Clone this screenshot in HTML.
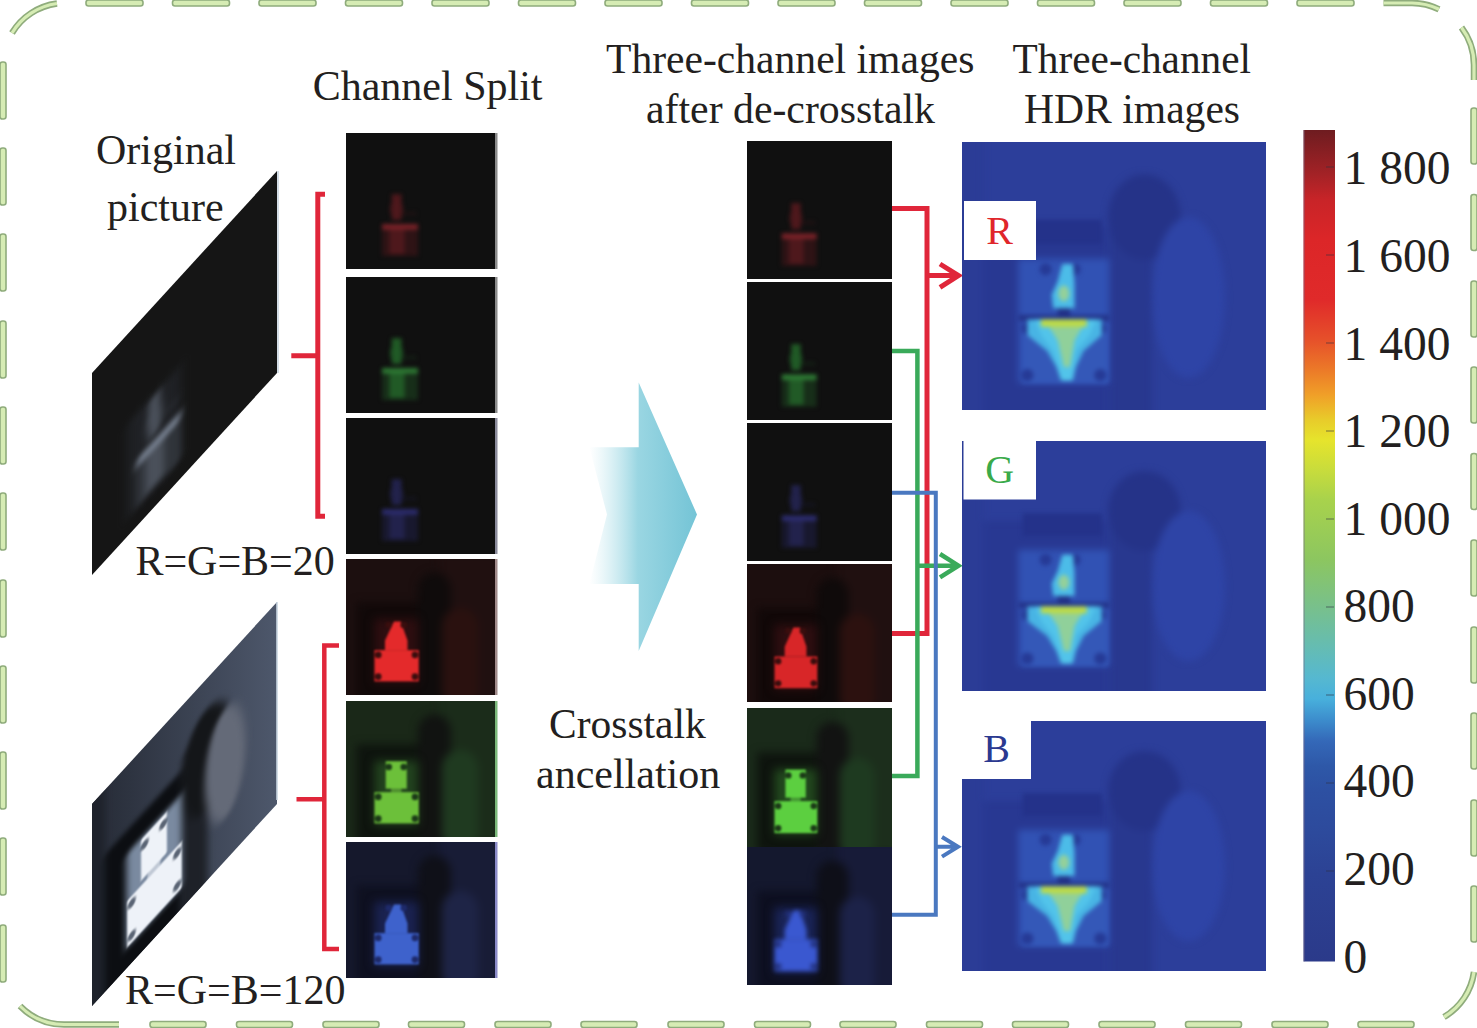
<!DOCTYPE html>
<html><head><meta charset="utf-8"><style>
html,body{margin:0;padding:0;background:#fff;}
svg{display:block;}
</style></head><body>
<svg width="1477" height="1028" viewBox="0 0 1477 1028">
<defs>
<filter id="b1" color-interpolation-filters="sRGB" x="-20%" y="-20%" width="140%" height="140%"><feGaussianBlur stdDeviation="1"/></filter>
<filter id="b2" color-interpolation-filters="sRGB" x="-20%" y="-20%" width="140%" height="140%"><feGaussianBlur stdDeviation="2"/></filter>
<filter id="b3" color-interpolation-filters="sRGB" x="-20%" y="-20%" width="140%" height="140%"><feGaussianBlur stdDeviation="3.5"/></filter>
<filter id="b5" color-interpolation-filters="sRGB" x="-50%" y="-50%" width="200%" height="200%"><feGaussianBlur stdDeviation="5"/></filter>
<filter id="b4" color-interpolation-filters="sRGB" x="-50%" y="-50%" width="200%" height="200%"><feGaussianBlur stdDeviation="4"/></filter>
<linearGradient id="arrowg" x1="0" x2="1" y1="0" y2="0"><stop offset="0" stop-color="#bfe6ee" stop-opacity="0"/><stop offset="0.45" stop-color="#9ad6e2"/><stop offset="1" stop-color="#74c4d6"/></linearGradient>
<linearGradient id="cbar" x1="0" x2="0" y1="1" y2="0"><stop offset="0.0" stop-color="#2b3a8a"/><stop offset="0.104" stop-color="#2c4294"/><stop offset="0.155" stop-color="#2d4a9c"/><stop offset="0.205" stop-color="#2d50a2"/><stop offset="0.235" stop-color="#2e58a8"/><stop offset="0.265" stop-color="#3468b8"/><stop offset="0.29" stop-color="#3c8ccc"/><stop offset="0.316" stop-color="#48b0dc"/><stop offset="0.341" stop-color="#56b8d0"/><stop offset="0.376" stop-color="#64bcb4"/><stop offset="0.426" stop-color="#78c08c"/><stop offset="0.483" stop-color="#8cc660"/><stop offset="0.555" stop-color="#a8d24c"/><stop offset="0.591" stop-color="#c8dc3c"/><stop offset="0.627" stop-color="#e6e42c"/><stop offset="0.651" stop-color="#e8cc2a"/><stop offset="0.681" stop-color="#f0a028"/><stop offset="0.711" stop-color="#ec7a28"/><stop offset="0.748" stop-color="#e6502a"/><stop offset="0.796" stop-color="#e02a2a"/><stop offset="0.868" stop-color="#dc2628"/><stop offset="0.916" stop-color="#c82428"/><stop offset="0.946" stop-color="#a42226"/><stop offset="1.0" stop-color="#6e1c20"/></linearGradient>
<linearGradient id="p2bg" x1="0" x2="1" y1="0" y2="0"><stop offset="0" stop-color="#252a35"/><stop offset="1" stop-color="#4e586c"/></linearGradient>
</defs>
<rect x="0" y="0" width="1477" height="1028" fill="#ffffff"/>
<rect x="86.0" y="0.0" width="57.0" height="6" rx="2.5" fill="#d6ecb4" stroke="#8fac7c" stroke-width="1.6"/>
<rect x="172.5" y="0.0" width="57.0" height="6" rx="2.5" fill="#d6ecb4" stroke="#8fac7c" stroke-width="1.6"/>
<rect x="259.0" y="0.0" width="57.0" height="6" rx="2.5" fill="#d6ecb4" stroke="#8fac7c" stroke-width="1.6"/>
<rect x="345.5" y="0.0" width="57.0" height="6" rx="2.5" fill="#d6ecb4" stroke="#8fac7c" stroke-width="1.6"/>
<rect x="432.0" y="0.0" width="57.0" height="6" rx="2.5" fill="#d6ecb4" stroke="#8fac7c" stroke-width="1.6"/>
<rect x="518.5" y="0.0" width="57.0" height="6" rx="2.5" fill="#d6ecb4" stroke="#8fac7c" stroke-width="1.6"/>
<rect x="605.0" y="0.0" width="57.0" height="6" rx="2.5" fill="#d6ecb4" stroke="#8fac7c" stroke-width="1.6"/>
<rect x="691.5" y="0.0" width="57.0" height="6" rx="2.5" fill="#d6ecb4" stroke="#8fac7c" stroke-width="1.6"/>
<rect x="778.0" y="0.0" width="57.0" height="6" rx="2.5" fill="#d6ecb4" stroke="#8fac7c" stroke-width="1.6"/>
<rect x="864.5" y="0.0" width="57.0" height="6" rx="2.5" fill="#d6ecb4" stroke="#8fac7c" stroke-width="1.6"/>
<rect x="951.0" y="0.0" width="57.0" height="6" rx="2.5" fill="#d6ecb4" stroke="#8fac7c" stroke-width="1.6"/>
<rect x="1037.5" y="0.0" width="57.0" height="6" rx="2.5" fill="#d6ecb4" stroke="#8fac7c" stroke-width="1.6"/>
<rect x="1124.0" y="0.0" width="57.0" height="6" rx="2.5" fill="#d6ecb4" stroke="#8fac7c" stroke-width="1.6"/>
<rect x="1210.5" y="0.0" width="57.0" height="6" rx="2.5" fill="#d6ecb4" stroke="#8fac7c" stroke-width="1.6"/>
<rect x="1297.0" y="0.0" width="57.0" height="6" rx="2.5" fill="#d6ecb4" stroke="#8fac7c" stroke-width="1.6"/>
<rect x="0.0" y="62.0" width="6" height="57.0" rx="2.5" fill="#d6ecb4" stroke="#8fac7c" stroke-width="1.6"/>
<rect x="0.0" y="148.0" width="6" height="57.0" rx="2.5" fill="#d6ecb4" stroke="#8fac7c" stroke-width="1.6"/>
<rect x="0.0" y="234.0" width="6" height="57.0" rx="2.5" fill="#d6ecb4" stroke="#8fac7c" stroke-width="1.6"/>
<rect x="0.0" y="321.0" width="6" height="57.0" rx="2.5" fill="#d6ecb4" stroke="#8fac7c" stroke-width="1.6"/>
<rect x="0.0" y="407.0" width="6" height="57.0" rx="2.5" fill="#d6ecb4" stroke="#8fac7c" stroke-width="1.6"/>
<rect x="0.0" y="493.0" width="6" height="57.0" rx="2.5" fill="#d6ecb4" stroke="#8fac7c" stroke-width="1.6"/>
<rect x="0.0" y="580.0" width="6" height="57.0" rx="2.5" fill="#d6ecb4" stroke="#8fac7c" stroke-width="1.6"/>
<rect x="0.0" y="666.0" width="6" height="57.0" rx="2.5" fill="#d6ecb4" stroke="#8fac7c" stroke-width="1.6"/>
<rect x="0.0" y="752.0" width="6" height="57.0" rx="2.5" fill="#d6ecb4" stroke="#8fac7c" stroke-width="1.6"/>
<rect x="0.0" y="838.0" width="6" height="57.0" rx="2.5" fill="#d6ecb4" stroke="#8fac7c" stroke-width="1.6"/>
<rect x="0.0" y="925.0" width="6" height="57.0" rx="2.5" fill="#d6ecb4" stroke="#8fac7c" stroke-width="1.6"/>
<rect x="1471.0" y="108.0" width="6" height="56.0" rx="2.5" fill="#d6ecb4" stroke="#8fac7c" stroke-width="1.6"/>
<rect x="1471.0" y="194.5" width="6" height="56.0" rx="2.5" fill="#d6ecb4" stroke="#8fac7c" stroke-width="1.6"/>
<rect x="1471.0" y="281.0" width="6" height="56.0" rx="2.5" fill="#d6ecb4" stroke="#8fac7c" stroke-width="1.6"/>
<rect x="1471.0" y="367.0" width="6" height="56.0" rx="2.5" fill="#d6ecb4" stroke="#8fac7c" stroke-width="1.6"/>
<rect x="1471.0" y="453.5" width="6" height="56.0" rx="2.5" fill="#d6ecb4" stroke="#8fac7c" stroke-width="1.6"/>
<rect x="1471.0" y="540.0" width="6" height="56.0" rx="2.5" fill="#d6ecb4" stroke="#8fac7c" stroke-width="1.6"/>
<rect x="1471.0" y="627.0" width="6" height="56.0" rx="2.5" fill="#d6ecb4" stroke="#8fac7c" stroke-width="1.6"/>
<rect x="1471.0" y="713.0" width="6" height="56.0" rx="2.5" fill="#d6ecb4" stroke="#8fac7c" stroke-width="1.6"/>
<rect x="1471.0" y="800.0" width="6" height="56.0" rx="2.5" fill="#d6ecb4" stroke="#8fac7c" stroke-width="1.6"/>
<rect x="1471.0" y="886.0" width="6" height="56.0" rx="2.5" fill="#d6ecb4" stroke="#8fac7c" stroke-width="1.6"/>
<rect x="150.0" y="1021.5" width="56.0" height="6" rx="2.5" fill="#d6ecb4" stroke="#8fac7c" stroke-width="1.6"/>
<rect x="236.5" y="1021.5" width="56.0" height="6" rx="2.5" fill="#d6ecb4" stroke="#8fac7c" stroke-width="1.6"/>
<rect x="323.0" y="1021.5" width="56.0" height="6" rx="2.5" fill="#d6ecb4" stroke="#8fac7c" stroke-width="1.6"/>
<rect x="408.5" y="1021.5" width="56.0" height="6" rx="2.5" fill="#d6ecb4" stroke="#8fac7c" stroke-width="1.6"/>
<rect x="495.0" y="1021.5" width="56.0" height="6" rx="2.5" fill="#d6ecb4" stroke="#8fac7c" stroke-width="1.6"/>
<rect x="581.0" y="1021.5" width="56.0" height="6" rx="2.5" fill="#d6ecb4" stroke="#8fac7c" stroke-width="1.6"/>
<rect x="668.0" y="1021.5" width="56.0" height="6" rx="2.5" fill="#d6ecb4" stroke="#8fac7c" stroke-width="1.6"/>
<rect x="754.5" y="1021.5" width="56.0" height="6" rx="2.5" fill="#d6ecb4" stroke="#8fac7c" stroke-width="1.6"/>
<rect x="840.0" y="1021.5" width="56.0" height="6" rx="2.5" fill="#d6ecb4" stroke="#8fac7c" stroke-width="1.6"/>
<rect x="926.5" y="1021.5" width="56.0" height="6" rx="2.5" fill="#d6ecb4" stroke="#8fac7c" stroke-width="1.6"/>
<rect x="1012.5" y="1021.5" width="56.0" height="6" rx="2.5" fill="#d6ecb4" stroke="#8fac7c" stroke-width="1.6"/>
<rect x="1099.0" y="1021.5" width="56.0" height="6" rx="2.5" fill="#d6ecb4" stroke="#8fac7c" stroke-width="1.6"/>
<rect x="1185.5" y="1021.5" width="56.0" height="6" rx="2.5" fill="#d6ecb4" stroke="#8fac7c" stroke-width="1.6"/>
<rect x="1272.0" y="1021.5" width="56.0" height="6" rx="2.5" fill="#d6ecb4" stroke="#8fac7c" stroke-width="1.6"/>
<rect x="1358.0" y="1021.5" width="56.0" height="6" rx="2.5" fill="#d6ecb4" stroke="#8fac7c" stroke-width="1.6"/>
<path d="M 12 33 A 62 62 0 0 1 57 3.5" fill="none" stroke="#8fac7c" stroke-width="6.5" stroke-linecap="butt"/>
<path d="M 12 33 A 62 62 0 0 1 57 3.5" fill="none" stroke="#d6ecb4" stroke-width="3.2" stroke-linecap="butt"/>
<path d="M 1383.5 3 L 1412 3 A 62 62 0 0 1 1439 9.3" fill="none" stroke="#8fac7c" stroke-width="6.5" stroke-linecap="butt"/>
<path d="M 1383.5 3 L 1412 3 A 62 62 0 0 1 1439 9.3" fill="none" stroke="#d6ecb4" stroke-width="3.2" stroke-linecap="butt"/>
<path d="M 1461.5 27.5 A 62 62 0 0 1 1474 65 L 1474 80" fill="none" stroke="#8fac7c" stroke-width="6.5" stroke-linecap="butt"/>
<path d="M 1461.5 27.5 A 62 62 0 0 1 1474 65 L 1474 80" fill="none" stroke="#d6ecb4" stroke-width="3.2" stroke-linecap="butt"/>
<path d="M 1474 972 A 62 62 0 0 1 1444 1017" fill="none" stroke="#8fac7c" stroke-width="6.5" stroke-linecap="butt"/>
<path d="M 1474 972 A 62 62 0 0 1 1444 1017" fill="none" stroke="#d6ecb4" stroke-width="3.2" stroke-linecap="butt"/>
<path d="M 20 1006 A 62 62 0 0 0 65 1024.5 L 119 1024.5" fill="none" stroke="#8fac7c" stroke-width="6.5" stroke-linecap="butt"/>
<path d="M 20 1006 A 62 62 0 0 0 65 1024.5 L 119 1024.5" fill="none" stroke="#d6ecb4" stroke-width="3.2" stroke-linecap="butt"/>
<clipPath id="cp1"><rect x="0" y="0" width="185" height="202"/></clipPath>
<g transform="matrix(1,-1.0919,0,1,92,373.00)"><g clip-path="url(#cp1)">
<rect x="-2" y="-2" width="189" height="206" fill="#151515"/>
<g filter="url(#b3)">
</g>
<g filter="url(#b5)">
<rect x="35.15" y="88.88" width="53.65" height="94.94" fill="#1f2125"/>
</g>
<g filter="url(#b3)">
<rect x="44.40" y="135.34" width="44.40" height="47.47" fill="#30343a"/>
<rect x="56.42" y="90.90" width="12.03" height="38.38" fill="#4a505a"/>
<rect x="68.45" y="117.16" width="18.50" height="5.05" fill="#30343a" opacity="0.5"/>
<ellipse cx="62.35" cy="113.12" rx="8.32" ry="14.14" fill="#4a505a" opacity="0.7"/>
<rect x="53.65" y="137.36" width="18.50" height="42.42" fill="#4a505a"/>
<rect x="44.40" y="135.34" width="44.40" height="8.08" fill="#7a8494"/>
</g></g></g>
<clipPath id="cp2"><rect x="0" y="0" width="185" height="202"/></clipPath>
<g transform="matrix(1,-1.0919,0,1,92,804.00)"><g clip-path="url(#cp2)">
<rect x="-2" y="-2" width="189" height="206" fill="url(#p2bg)"/>
<g filter="url(#b3)">
<rect x="-9.25" y="-10.10" width="22.20" height="222.20" fill="#1e222b"/>
<rect x="12.95" y="64.64" width="75.85" height="147.46" fill="#0c0e12"/>
<rect x="90.09" y="50.50" width="25.53" height="161.60" fill="#1e2128"/>
<ellipse cx="114.70" cy="80.80" rx="25.90" ry="50.50" fill="#141619"/>
<ellipse cx="133.20" cy="105.04" rx="20.35" ry="54.54" fill="#646a78"/>
<rect x="34.23" y="87.87" width="55.50" height="93.93" fill="#7a8aa0"/>
</g>
<g filter="url(#b5)">
</g>
<g filter="url(#b1)">
<rect x="49.03" y="89.49" width="25.90" height="40.80" fill="#eef2f8"/>
<rect x="55.50" y="129.28" width="12.95" height="6.06" fill="#eef2f8" opacity="0.6"/>
<rect x="35.15" y="135.34" width="54.57" height="46.46" fill="#eef2f8"/>
<circle cx="39.77" cy="142.41" r="4.07" fill="#5a6474"/>
<circle cx="85.10" cy="142.41" r="4.07" fill="#5a6474"/>
<circle cx="39.77" cy="174.73" r="4.07" fill="#5a6474"/>
<circle cx="85.10" cy="174.73" r="4.07" fill="#5a6474"/>
<circle cx="52.72" cy="97.97" r="4.07" fill="#5a6474"/>
<circle cx="71.23" cy="97.97" r="4.07" fill="#5a6474"/>
</g></g></g>
<rect x="277" y="171" width="2" height="202" fill="#c8d4e0" opacity="0.8"/>
<rect x="276" y="602" width="2" height="198" fill="#c8d4e0" opacity="0.8"/>
<path d="M 325 194.3 L 317.8 194.3 L 317.8 516.3 L 325 516.3 M 291.3 355.8 L 317.8 355.8" fill="none" stroke="#e0263a" stroke-width="5"/>
<path d="M 339 645.5 L 324.3 645.5 L 324.3 949 L 339 949 M 296.5 799.3 L 324.3 799.3" fill="none" stroke="#e0263a" stroke-width="4.5"/>
<clipPath id="cs0"><rect x="0" y="0" width="150" height="136"/></clipPath>
<g transform="translate(346,133)"><g clip-path="url(#cs0)">
<rect x="-2" y="-2" width="154" height="140" fill="#101010"/>
<g filter="url(#b3)">
</g>
<g filter="url(#b5)">
</g>
<g filter="url(#b2)">
<rect x="36.00" y="91.12" width="36.00" height="31.96" fill="#2e1315"/>
<rect x="45.75" y="61.20" width="9.75" height="25.84" fill="#4e181c"/>
<rect x="55.50" y="78.88" width="15.00" height="3.40" fill="#2e1315" opacity="0.5"/>
<ellipse cx="50.55" cy="76.16" rx="6.75" ry="9.52" fill="#4e181c" opacity="0.7"/>
<rect x="43.50" y="92.48" width="15.00" height="28.56" fill="#4e181c"/>
<rect x="36.00" y="91.12" width="36.00" height="5.44" fill="#7a2228"/>
</g></g></g>
<rect x="495" y="133" width="2.5" height="136" fill="#8a8a8a"/>
<clipPath id="cs1"><rect x="0" y="0" width="150" height="136"/></clipPath>
<g transform="translate(346,277)"><g clip-path="url(#cs1)">
<rect x="-2" y="-2" width="154" height="140" fill="#101010"/>
<g filter="url(#b3)">
</g>
<g filter="url(#b5)">
</g>
<g filter="url(#b2)">
<rect x="36.00" y="91.12" width="36.00" height="31.96" fill="#172e19"/>
<rect x="45.75" y="61.20" width="9.75" height="25.84" fill="#215a26"/>
<rect x="55.50" y="78.88" width="15.00" height="3.40" fill="#172e19" opacity="0.5"/>
<ellipse cx="50.55" cy="76.16" rx="6.75" ry="9.52" fill="#215a26" opacity="0.7"/>
<rect x="43.50" y="92.48" width="15.00" height="28.56" fill="#215a26"/>
<rect x="36.00" y="91.12" width="36.00" height="5.44" fill="#2e7a34"/>
</g></g></g>
<rect x="495" y="277" width="2.5" height="136" fill="#8a8a8a"/>
<clipPath id="cs2"><rect x="0" y="0" width="150" height="136"/></clipPath>
<g transform="translate(346,418)"><g clip-path="url(#cs2)">
<rect x="-2" y="-2" width="154" height="140" fill="#101010"/>
<g filter="url(#b3)">
</g>
<g filter="url(#b5)">
</g>
<g filter="url(#b2)">
<rect x="36.00" y="91.12" width="36.00" height="31.96" fill="#18182e"/>
<rect x="45.75" y="61.20" width="9.75" height="25.84" fill="#22224c"/>
<rect x="55.50" y="78.88" width="15.00" height="3.40" fill="#18182e" opacity="0.5"/>
<ellipse cx="50.55" cy="76.16" rx="6.75" ry="9.52" fill="#22224c" opacity="0.7"/>
<rect x="43.50" y="92.48" width="15.00" height="28.56" fill="#22224c"/>
<rect x="36.00" y="91.12" width="36.00" height="5.44" fill="#2c2c6e"/>
</g></g></g>
<rect x="495" y="418" width="2.5" height="136" fill="#8a8a9a"/>
<clipPath id="cs3"><rect x="0" y="0" width="150" height="136"/></clipPath>
<g transform="translate(346,559)"><g clip-path="url(#cs3)">
<rect x="-2" y="-2" width="154" height="140" fill="#1c0f0f"/>
<g filter="url(#b4)">
<rect x="93.00" y="-6.80" width="64.50" height="149.60" fill="#201010"/>
<rect x="10.50" y="43.52" width="61.50" height="99.28" fill="#110909"/>
<rect x="72.00" y="13.60" width="33.00" height="136.00" rx="16.50" fill="#0f0b0b"/>
<rect x="96.00" y="48.96" width="36.00" height="100.64" rx="18.00" fill="#2a110f"/>
</g>
<g filter="url(#b5)">
<rect x="28.50" y="59.84" width="43.50" height="63.92" fill="#2e0e10"/>
</g>
<g filter="url(#b1)">
<path d="M 48.00 62.56 L 54.75 62.56 L 61.50 81.60 L 61.50 91.12 L 39.00 91.12 L 39.00 81.60 Z" fill="#e42a2b"/>
<rect x="28.50" y="91.12" width="44.25" height="31.28" fill="#e42a2b"/>
<circle cx="32.25" cy="95.88" r="3.30" fill="#3a0e0e"/>
<circle cx="69.00" cy="95.88" r="3.30" fill="#3a0e0e"/>
<circle cx="32.25" cy="117.64" r="3.30" fill="#3a0e0e"/>
<circle cx="69.00" cy="117.64" r="3.30" fill="#3a0e0e"/>
<circle cx="42.75" cy="65.96" r="3.30" fill="#3a0e0e"/>
<circle cx="57.75" cy="65.96" r="3.30" fill="#3a0e0e"/>
</g></g></g>
<rect x="495" y="559" width="2.5" height="136" fill="#a08a8a"/>
<clipPath id="cs4"><rect x="0" y="0" width="150" height="136"/></clipPath>
<g transform="translate(346,701)"><g clip-path="url(#cs4)">
<rect x="-2" y="-2" width="154" height="140" fill="#1a2818"/>
<g filter="url(#b4)">
<rect x="93.00" y="-6.80" width="64.50" height="149.60" fill="#1b2c1a"/>
<rect x="10.50" y="43.52" width="61.50" height="99.28" fill="#0e140e"/>
<rect x="72.00" y="13.60" width="33.00" height="136.00" rx="16.50" fill="#111311"/>
<rect x="96.00" y="48.96" width="36.00" height="100.64" rx="18.00" fill="#1f3a20"/>
</g>
<g filter="url(#b5)">
<rect x="28.50" y="59.84" width="43.50" height="63.92" fill="#22421e"/>
</g>
<g filter="url(#b1)">
<rect x="39.75" y="60.25" width="21.00" height="27.47" fill="#6cc03a"/>
<rect x="45.00" y="87.04" width="10.50" height="4.08" fill="#6cc03a" opacity="0.6"/>
<rect x="28.50" y="91.12" width="44.25" height="31.28" fill="#6cc03a"/>
<circle cx="32.25" cy="95.88" r="3.30" fill="#1c3a18"/>
<circle cx="69.00" cy="95.88" r="3.30" fill="#1c3a18"/>
<circle cx="32.25" cy="117.64" r="3.30" fill="#1c3a18"/>
<circle cx="69.00" cy="117.64" r="3.30" fill="#1c3a18"/>
<circle cx="42.75" cy="65.96" r="3.30" fill="#1c3a18"/>
<circle cx="57.75" cy="65.96" r="3.30" fill="#1c3a18"/>
</g></g></g>
<rect x="495" y="701" width="2.5" height="136" fill="#7ab87a"/>
<clipPath id="cs5"><rect x="0" y="0" width="150" height="136"/></clipPath>
<g transform="translate(346,842)"><g clip-path="url(#cs5)">
<rect x="-2" y="-2" width="154" height="140" fill="#15182c"/>
<g filter="url(#b4)">
<rect x="93.00" y="-6.80" width="64.50" height="149.60" fill="#181c36"/>
<rect x="10.50" y="43.52" width="61.50" height="99.28" fill="#0e1020"/>
<rect x="72.00" y="13.60" width="33.00" height="136.00" rx="16.50" fill="#0f1018"/>
<rect x="96.00" y="48.96" width="36.00" height="100.64" rx="18.00" fill="#1e2446"/>
</g>
<g filter="url(#b5)">
<rect x="28.50" y="59.84" width="43.50" height="63.92" fill="#1a2250"/>
</g>
<g filter="url(#b1)">
<path d="M 48.00 62.56 L 54.75 62.56 L 61.50 81.60 L 61.50 91.12 L 39.00 91.12 L 39.00 81.60 Z" fill="#3e62cc"/>
<rect x="28.50" y="91.12" width="44.25" height="31.28" fill="#3e62cc"/>
<circle cx="32.25" cy="95.88" r="3.30" fill="#1e2a6a"/>
<circle cx="69.00" cy="95.88" r="3.30" fill="#1e2a6a"/>
<circle cx="32.25" cy="117.64" r="3.30" fill="#1e2a6a"/>
<circle cx="69.00" cy="117.64" r="3.30" fill="#1e2a6a"/>
<circle cx="42.75" cy="65.96" r="3.30" fill="#1e2a6a"/>
<circle cx="57.75" cy="65.96" r="3.30" fill="#1e2a6a"/>
</g></g></g>
<rect x="495" y="842" width="2.5" height="136" fill="#8a8ac8"/>
<path d="M 589.4 447.3 L 638.7 447.3 L 638.7 382.4 L 697 514.5 L 638.7 651 L 638.7 584 L 589.4 584 L 607 514.5 Z" fill="url(#arrowg)"/>
<clipPath id="ms0"><rect x="0" y="0" width="145" height="138"/></clipPath>
<g transform="translate(747,141)"><g clip-path="url(#ms0)">
<rect x="-2" y="-2" width="149" height="142" fill="#101010"/>
<g filter="url(#b3)">
</g>
<g filter="url(#b5)">
</g>
<g filter="url(#b2)">
<rect x="34.80" y="92.46" width="34.80" height="32.43" fill="#2e1315"/>
<rect x="44.23" y="62.10" width="9.43" height="26.22" fill="#4e181c"/>
<rect x="53.65" y="80.04" width="14.50" height="3.45" fill="#2e1315" opacity="0.5"/>
<ellipse cx="48.87" cy="77.28" rx="6.52" ry="9.66" fill="#4e181c" opacity="0.7"/>
<rect x="42.05" y="93.84" width="14.50" height="28.98" fill="#4e181c"/>
<rect x="34.80" y="92.46" width="34.80" height="5.52" fill="#7a2228"/>
</g></g></g>
<clipPath id="ms1"><rect x="0" y="0" width="145" height="138"/></clipPath>
<g transform="translate(747,282)"><g clip-path="url(#ms1)">
<rect x="-2" y="-2" width="149" height="142" fill="#101010"/>
<g filter="url(#b3)">
</g>
<g filter="url(#b5)">
</g>
<g filter="url(#b2)">
<rect x="34.80" y="92.46" width="34.80" height="32.43" fill="#172e19"/>
<rect x="44.23" y="62.10" width="9.43" height="26.22" fill="#215a26"/>
<rect x="53.65" y="80.04" width="14.50" height="3.45" fill="#172e19" opacity="0.5"/>
<ellipse cx="48.87" cy="77.28" rx="6.52" ry="9.66" fill="#215a26" opacity="0.7"/>
<rect x="42.05" y="93.84" width="14.50" height="28.98" fill="#215a26"/>
<rect x="34.80" y="92.46" width="34.80" height="5.52" fill="#2e7a34"/>
</g></g></g>
<clipPath id="ms2"><rect x="0" y="0" width="145" height="138"/></clipPath>
<g transform="translate(747,423)"><g clip-path="url(#ms2)">
<rect x="-2" y="-2" width="149" height="142" fill="#101010"/>
<g filter="url(#b3)">
</g>
<g filter="url(#b5)">
</g>
<g filter="url(#b2)">
<rect x="34.80" y="92.46" width="34.80" height="32.43" fill="#18182e"/>
<rect x="44.23" y="62.10" width="9.43" height="26.22" fill="#22224c"/>
<rect x="53.65" y="80.04" width="14.50" height="3.45" fill="#18182e" opacity="0.5"/>
<ellipse cx="48.87" cy="77.28" rx="6.52" ry="9.66" fill="#22224c" opacity="0.7"/>
<rect x="42.05" y="93.84" width="14.50" height="28.98" fill="#22224c"/>
<rect x="34.80" y="92.46" width="34.80" height="5.52" fill="#2c2c6e"/>
</g></g></g>
<clipPath id="ms3"><rect x="0" y="0" width="145" height="138"/></clipPath>
<g transform="translate(747,564)"><g clip-path="url(#ms3)">
<rect x="-2" y="-2" width="149" height="142" fill="#1c0e0e"/>
<g filter="url(#b4)">
<rect x="89.90" y="-6.90" width="62.35" height="151.80" fill="#201010"/>
<rect x="10.15" y="44.16" width="59.45" height="100.74" fill="#110808"/>
<rect x="69.60" y="13.80" width="31.90" height="138.00" rx="15.95" fill="#0f0a0a"/>
<rect x="92.80" y="49.68" width="34.80" height="102.12" rx="17.40" fill="#2c110f"/>
</g>
<g filter="url(#b5)">
<rect x="27.55" y="60.72" width="42.05" height="64.86" fill="#2e0e10"/>
</g>
<g filter="url(#b1)">
<path d="M 46.40 63.48 L 52.92 63.48 L 59.45 82.80 L 59.45 92.46 L 37.70 92.46 L 37.70 82.80 Z" fill="#d82628"/>
<rect x="27.55" y="92.46" width="42.77" height="31.74" fill="#d82628"/>
<circle cx="31.18" cy="97.29" r="3.19" fill="#3a0e0e"/>
<circle cx="66.70" cy="97.29" r="3.19" fill="#3a0e0e"/>
<circle cx="31.18" cy="119.37" r="3.19" fill="#3a0e0e"/>
<circle cx="66.70" cy="119.37" r="3.19" fill="#3a0e0e"/>
<circle cx="41.32" cy="66.93" r="3.19" fill="#3a0e0e"/>
<circle cx="55.83" cy="66.93" r="3.19" fill="#3a0e0e"/>
</g></g></g>
<clipPath id="ms4"><rect x="0" y="0" width="145" height="139"/></clipPath>
<g transform="translate(747,708)"><g clip-path="url(#ms4)">
<rect x="-2" y="-2" width="149" height="143" fill="#1a2a1a"/>
<g filter="url(#b4)">
<rect x="89.90" y="-6.95" width="62.35" height="152.90" fill="#1c2e1c"/>
<rect x="10.15" y="44.48" width="59.45" height="101.47" fill="#0e140e"/>
<rect x="69.60" y="13.90" width="31.90" height="139.00" rx="15.95" fill="#121312"/>
<rect x="92.80" y="50.04" width="34.80" height="102.86" rx="17.40" fill="#1e3a20"/>
</g>
<g filter="url(#b5)">
<rect x="27.55" y="61.16" width="42.05" height="65.33" fill="#22481e"/>
</g>
<g filter="url(#b1)">
<rect x="38.43" y="61.58" width="20.30" height="28.08" fill="#5ccf40"/>
<rect x="43.50" y="88.96" width="10.15" height="4.17" fill="#5ccf40" opacity="0.6"/>
<rect x="27.55" y="93.13" width="42.77" height="31.97" fill="#5ccf40"/>
<circle cx="31.18" cy="97.99" r="3.19" fill="#1c3a18"/>
<circle cx="66.70" cy="97.99" r="3.19" fill="#1c3a18"/>
<circle cx="31.18" cy="120.23" r="3.19" fill="#1c3a18"/>
<circle cx="66.70" cy="120.23" r="3.19" fill="#1c3a18"/>
<circle cx="41.32" cy="67.41" r="3.19" fill="#1c3a18"/>
<circle cx="55.83" cy="67.41" r="3.19" fill="#1c3a18"/>
</g></g></g>
<clipPath id="ms5"><rect x="0" y="0" width="145" height="138"/></clipPath>
<g transform="translate(747,847)"><g clip-path="url(#ms5)">
<rect x="-2" y="-2" width="149" height="142" fill="#14182e"/>
<g filter="url(#b4)">
<rect x="89.90" y="-6.90" width="62.35" height="151.80" fill="#171b38"/>
<rect x="10.15" y="44.16" width="59.45" height="100.74" fill="#0d0f20"/>
<rect x="69.60" y="13.80" width="31.90" height="138.00" rx="15.95" fill="#0e0f18"/>
<rect x="92.80" y="49.68" width="34.80" height="102.12" rx="17.40" fill="#1c2248"/>
</g>
<g filter="url(#b5)">
<rect x="27.55" y="60.72" width="42.05" height="64.86" fill="#1a2458"/>
</g>
<g filter="url(#b2)">
<path d="M 46.40 63.48 L 52.92 63.48 L 59.45 82.80 L 59.45 92.46 L 37.70 92.46 L 37.70 82.80 Z" fill="#3a58d0"/>
<rect x="27.55" y="92.46" width="42.77" height="31.74" fill="#3a58d0"/>
<circle cx="31.18" cy="97.29" r="3.19" fill="#22307a"/>
<circle cx="66.70" cy="97.29" r="3.19" fill="#22307a"/>
<circle cx="31.18" cy="119.37" r="3.19" fill="#22307a"/>
<circle cx="66.70" cy="119.37" r="3.19" fill="#22307a"/>
<circle cx="41.32" cy="66.93" r="3.19" fill="#22307a"/>
<circle cx="55.83" cy="66.93" r="3.19" fill="#22307a"/>
</g></g></g>
<path d="M 892 208.5 L 927 208.5 L 927 633.4 L 892 633.4 M 927 275.6 L 958 275.6 M 940 264 L 958.5 275.6 L 940 287.4" fill="none" stroke="#e0263a" stroke-width="5"/>
<path d="M 892 351 L 917.4 351 L 917.4 776 L 892 776 M 917.4 565.7 L 957 565.7 M 940 554 L 958.5 565.7 L 940 577.4" fill="none" stroke="#3aaa5a" stroke-width="4.5"/>
<path d="M 892 492.8 L 935.8 492.8 L 935.8 914.7 L 892 914.7 M 935.8 846.8 L 957 846.8 M 942 837 L 958 846.8 L 942 856.6" fill="none" stroke="#4a78c0" stroke-width="4"/>
<clipPath id="hs0"><rect x="0" y="0" width="304" height="268"/></clipPath>
<g transform="translate(962,142)"><g clip-path="url(#hs0)">
<rect x="-2" y="-2" width="308" height="272" fill="#2c3e9a"/>
<g filter="url(#b3)">
<rect x="-15.20" y="-13.40" width="36.48" height="294.80" fill="#2b3c96"/>
<rect x="21.28" y="85.76" width="124.64" height="195.64" fill="#283892"/>
<rect x="148.05" y="67.00" width="41.95" height="214.40" fill="#28388f"/>
<ellipse cx="182.40" cy="75.04" rx="36.48" ry="42.88" fill="#253388"/>
<ellipse cx="226.48" cy="155.44" rx="36.48" ry="80.40" fill="#2e44a6"/>
<rect x="56.24" y="116.58" width="91.20" height="124.62" fill="#3152b4"/>
</g>
<g filter="url(#b5)">
</g>
<g filter="url(#b2)">
<rect x="60.80" y="180.90" width="85.12" height="60.30" fill="#3458b8"/>
<rect x="60.80" y="77.72" width="79.04" height="24.12" fill="#24328a"/>
<rect x="56.24" y="172.86" width="91.20" height="6.16" fill="#24348a"/>
<rect x="95.76" y="163.48" width="12.16" height="14.74" fill="#223288"/>
<circle cx="65.36" cy="186.26" r="6.08" fill="#263a96"/>
<circle cx="138.32" cy="186.26" r="6.08" fill="#263a96"/>
<circle cx="65.36" cy="233.16" r="6.08" fill="#263a96"/>
<circle cx="138.32" cy="233.16" r="6.08" fill="#263a96"/>
<circle cx="83.60" cy="127.30" r="6.08" fill="#263a96"/>
<circle cx="112.48" cy="127.30" r="6.08" fill="#263a96"/>
<path d="M 100.32 121.94 L 110.96 121.94 L 112.48 142.04 L 112.48 166.16 L 91.20 166.16 L 89.68 152.76 L 95.76 139.36 Z" fill="#4cbce8"/>
<ellipse cx="101.84" cy="151.42" rx="5.47" ry="8.04" fill="#94d09a"/>
<path d="M 65.36 177.42 L 139.84 177.42 L 139.84 192.96 L 121.60 209.04 L 114.00 225.12 L 110.96 238.52 L 98.80 238.52 L 94.24 225.12 L 85.12 209.04 L 65.36 192.96 Z" fill="#48b4e4"/>
<path d="M 72.96 177.42 L 134.67 177.42 L 127.68 192.96 L 114.00 209.04 L 109.44 238.52 L 100.32 238.52 L 91.20 209.04 L 79.04 192.96 Z" fill="#52c4ea"/>
<path d="M 82.08 177.42 L 124.64 177.42 L 112.48 198.32 L 107.92 225.12 L 101.84 225.12 L 95.76 198.32 Z" fill="#90d09a"/>
<rect x="79.04" y="177.42" width="45.60" height="7.50" fill="#bcda48"/>
</g></g></g>
<clipPath id="hs1"><rect x="0" y="0" width="304" height="250"/></clipPath>
<g transform="translate(962,441)"><g clip-path="url(#hs1)">
<rect x="-2" y="-2" width="308" height="254" fill="#2c3e9a"/>
<g filter="url(#b3)">
<rect x="-15.20" y="-12.50" width="36.48" height="275.00" fill="#2b3c96"/>
<rect x="21.28" y="80.00" width="124.64" height="182.50" fill="#283892"/>
<rect x="148.05" y="62.50" width="41.95" height="200.00" fill="#28388f"/>
<ellipse cx="182.40" cy="70.00" rx="36.48" ry="40.00" fill="#253388"/>
<ellipse cx="226.48" cy="145.00" rx="36.48" ry="75.00" fill="#2e44a6"/>
<rect x="56.24" y="108.75" width="91.20" height="116.25" fill="#3152b4"/>
</g>
<g filter="url(#b5)">
</g>
<g filter="url(#b2)">
<rect x="60.80" y="168.75" width="85.12" height="56.25" fill="#3458b8"/>
<rect x="60.80" y="72.50" width="79.04" height="22.50" fill="#24328a"/>
<rect x="56.24" y="161.25" width="91.20" height="5.75" fill="#24348a"/>
<rect x="95.76" y="152.50" width="12.16" height="13.75" fill="#223288"/>
<circle cx="65.36" cy="173.75" r="6.08" fill="#263a96"/>
<circle cx="138.32" cy="173.75" r="6.08" fill="#263a96"/>
<circle cx="65.36" cy="217.50" r="6.08" fill="#263a96"/>
<circle cx="138.32" cy="217.50" r="6.08" fill="#263a96"/>
<circle cx="83.60" cy="118.75" r="6.08" fill="#263a96"/>
<circle cx="112.48" cy="118.75" r="6.08" fill="#263a96"/>
<path d="M 100.32 113.75 L 110.96 113.75 L 112.48 132.50 L 112.48 155.00 L 91.20 155.00 L 89.68 142.50 L 95.76 130.00 Z" fill="#4cbce8"/>
<ellipse cx="101.84" cy="141.25" rx="5.47" ry="7.50" fill="#94d09a"/>
<path d="M 65.36 165.50 L 139.84 165.50 L 139.84 180.00 L 121.60 195.00 L 114.00 210.00 L 110.96 222.50 L 98.80 222.50 L 94.24 210.00 L 85.12 195.00 L 65.36 180.00 Z" fill="#48b4e4"/>
<path d="M 72.96 165.50 L 134.67 165.50 L 127.68 180.00 L 114.00 195.00 L 109.44 222.50 L 100.32 222.50 L 91.20 195.00 L 79.04 180.00 Z" fill="#52c4ea"/>
<path d="M 82.08 165.50 L 124.64 165.50 L 112.48 185.00 L 107.92 210.00 L 101.84 210.00 L 95.76 185.00 Z" fill="#90d09a"/>
<rect x="79.04" y="165.50" width="45.60" height="7.00" fill="#bcda48"/>
</g></g></g>
<clipPath id="hs2"><rect x="0" y="0" width="304" height="250"/></clipPath>
<g transform="translate(962,721)"><g clip-path="url(#hs2)">
<rect x="-2" y="-2" width="308" height="254" fill="#2c3e9a"/>
<g filter="url(#b3)">
<rect x="-15.20" y="-12.50" width="36.48" height="275.00" fill="#2b3c96"/>
<rect x="21.28" y="80.00" width="124.64" height="182.50" fill="#283892"/>
<rect x="148.05" y="62.50" width="41.95" height="200.00" fill="#28388f"/>
<ellipse cx="182.40" cy="70.00" rx="36.48" ry="40.00" fill="#253388"/>
<ellipse cx="226.48" cy="145.00" rx="36.48" ry="75.00" fill="#2e44a6"/>
<rect x="56.24" y="108.75" width="91.20" height="116.25" fill="#3152b4"/>
</g>
<g filter="url(#b5)">
</g>
<g filter="url(#b2)">
<rect x="60.80" y="168.75" width="85.12" height="56.25" fill="#3458b8"/>
<rect x="60.80" y="72.50" width="79.04" height="22.50" fill="#24328a"/>
<rect x="56.24" y="161.25" width="91.20" height="5.75" fill="#24348a"/>
<rect x="95.76" y="152.50" width="12.16" height="13.75" fill="#223288"/>
<circle cx="65.36" cy="173.75" r="6.08" fill="#263a96"/>
<circle cx="138.32" cy="173.75" r="6.08" fill="#263a96"/>
<circle cx="65.36" cy="217.50" r="6.08" fill="#263a96"/>
<circle cx="138.32" cy="217.50" r="6.08" fill="#263a96"/>
<circle cx="83.60" cy="118.75" r="6.08" fill="#263a96"/>
<circle cx="112.48" cy="118.75" r="6.08" fill="#263a96"/>
<path d="M 100.32 113.75 L 110.96 113.75 L 112.48 132.50 L 112.48 155.00 L 91.20 155.00 L 89.68 142.50 L 95.76 130.00 Z" fill="#4cbce8"/>
<ellipse cx="101.84" cy="141.25" rx="5.47" ry="7.50" fill="#94d09a"/>
<path d="M 65.36 165.50 L 139.84 165.50 L 139.84 180.00 L 121.60 195.00 L 114.00 210.00 L 110.96 222.50 L 98.80 222.50 L 94.24 210.00 L 85.12 195.00 L 65.36 180.00 Z" fill="#48b4e4"/>
<path d="M 72.96 165.50 L 134.67 165.50 L 127.68 180.00 L 114.00 195.00 L 109.44 222.50 L 100.32 222.50 L 91.20 195.00 L 79.04 180.00 Z" fill="#52c4ea"/>
<path d="M 82.08 165.50 L 124.64 165.50 L 112.48 185.00 L 107.92 210.00 L 101.84 210.00 L 95.76 185.00 Z" fill="#90d09a"/>
<rect x="79.04" y="165.50" width="45.60" height="7.00" fill="#bcda48"/>
</g></g></g>
<rect x="964" y="201" width="72" height="59" fill="#fff"/>
<rect x="963.5" y="441" width="72.5" height="58.5" fill="#fff"/>
<rect x="962" y="721" width="69" height="58" fill="#fff"/>
<rect x="1303.5" y="130" width="31.5" height="831.5" fill="url(#cbar)"/>
<rect x="1303.5" y="130" width="1.2" height="831.5" fill="#7a6a8a" opacity="0.5"/>
<rect x="1326" y="166" width="8" height="2" fill="#303040" opacity="0.3"/>
<rect x="1326" y="254" width="8" height="2" fill="#303040" opacity="0.3"/>
<rect x="1326" y="342" width="8" height="2" fill="#303040" opacity="0.3"/>
<rect x="1326" y="430" width="8" height="2" fill="#303040" opacity="0.3"/>
<rect x="1326" y="518" width="8" height="2" fill="#303040" opacity="0.3"/>
<rect x="1326" y="606" width="8" height="2" fill="#303040" opacity="0.3"/>
<rect x="1326" y="694" width="8" height="2" fill="#303040" opacity="0.3"/>
<rect x="1326" y="782" width="8" height="2" fill="#303040" opacity="0.3"/>
<rect x="1326" y="870" width="8" height="2" fill="#303040" opacity="0.3"/>
<g font-family="Liberation Serif, serif">
<text x="312.7" y="100.3" font-size="42" fill="#231f20" text-anchor="start">Channel Split</text>
<text x="606" y="72.9" font-size="41.6" fill="#231f20" text-anchor="start">Three-channel images</text>
<text x="646" y="123" font-size="41.8" fill="#231f20" text-anchor="start">after de-crosstalk</text>
<text x="1012.6" y="72.9" font-size="41.3" fill="#231f20" text-anchor="start">Three-channel</text>
<text x="1024" y="123" font-size="41.6" fill="#231f20" text-anchor="start">HDR images</text>
<text x="96" y="164.1" font-size="42" fill="#231f20" text-anchor="start">Original</text>
<text x="107" y="221.1" font-size="42" fill="#231f20" text-anchor="start">picture</text>
<text x="135.4" y="574.9" font-size="42" fill="#231f20" text-anchor="start">R=G=B=20</text>
<text x="125" y="1003.8" font-size="42" fill="#231f20" text-anchor="start">R=G=B=120</text>
<text x="549" y="738" font-size="41.5" fill="#231f20" text-anchor="start">Crosstalk</text>
<text x="536" y="788" font-size="42" fill="#231f20" text-anchor="start">ancellation</text>
<text x="999.6" y="243.8" font-size="40" fill="#e0262b" text-anchor="middle">R</text>
<text x="999.6" y="482.7" font-size="40" fill="#3aaa4a" text-anchor="middle">G</text>
<text x="996.5" y="761.9" font-size="40" fill="#2b3990" text-anchor="middle">B</text>
<text x="1343.5" y="184" font-size="47.5" fill="#231f20" text-anchor="start">1 800</text>
<text x="1343.5" y="272" font-size="47.5" fill="#231f20" text-anchor="start">1 600</text>
<text x="1343.5" y="359.6" font-size="47.5" fill="#231f20" text-anchor="start">1 400</text>
<text x="1343.5" y="447" font-size="47.5" fill="#231f20" text-anchor="start">1 200</text>
<text x="1343.5" y="534.7" font-size="47.5" fill="#231f20" text-anchor="start">1 000</text>
<text x="1343.5" y="622.2" font-size="47.5" fill="#231f20" text-anchor="start">800</text>
<text x="1343.5" y="709.8" font-size="47.5" fill="#231f20" text-anchor="start">600</text>
<text x="1343.5" y="797.4" font-size="47.5" fill="#231f20" text-anchor="start">400</text>
<text x="1343.5" y="885" font-size="47.5" fill="#231f20" text-anchor="start">200</text>
<text x="1343.5" y="972.5" font-size="47.5" fill="#231f20" text-anchor="start">0</text>
</g>
</svg>
</body></html>
